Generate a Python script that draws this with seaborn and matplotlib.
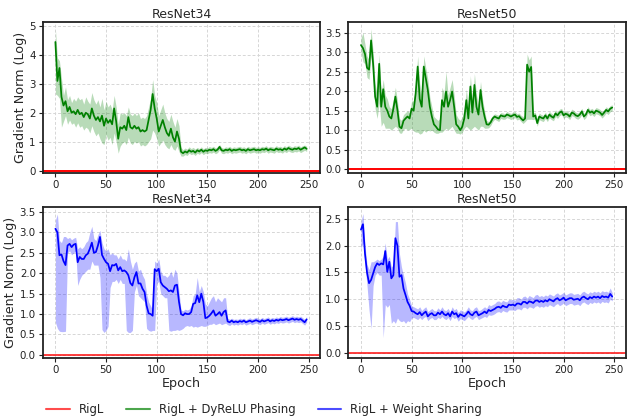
import numpy as np
import pandas as pd
import seaborn as sns
import matplotlib
matplotlib.use("Agg")
import matplotlib.pyplot as plt
from matplotlib.lines import Line2D

# ---------------- data (every 2 epochs) ----------------
epochs = list(range(0, 250, 2))

titles = ["ResNet34", "ResNet50", "ResNet34", "ResNet50"]
legend_labels = ["RigL", "RigL + DyReLU Phasing", "RigL + Weight Sharing"]
rigl_value = 0.0

tl_mean = [4.45, 3.1, 3.55, 2.55, 2.25, 2.4, 2.05, 2.2, 2.0, 2.05,
           1.95, 2.1, 1.95, 2.0, 1.85, 2.0, 1.95, 1.8, 2.15, 1.9,
           1.75, 1.85, 1.7, 1.9, 1.55, 1.8, 1.65, 1.75, 1.6, 2.15,
           1.7, 1.1, 1.5, 1.45, 1.55, 1.4, 1.85, 1.5, 1.45, 1.55,
           1.45, 1.5, 1.35, 1.4, 1.35, 1.4, 1.75, 2.1, 2.65, 2.15,
           1.8, 1.35, 1.55, 1.75, 1.5, 1.3, 1.2, 1.45, 1.15, 1.0,
           1.35, 1.1, 0.65, 0.6, 0.66, 0.62, 0.7, 0.65, 0.68, 0.62,
           0.7, 0.66, 0.72, 0.65, 0.7, 0.68, 0.72, 0.7, 0.74, 0.68,
           0.72, 0.82, 0.7, 0.68, 0.72, 0.7, 0.74, 0.68, 0.72, 0.7,
           0.72, 0.74, 0.7, 0.72, 0.68, 0.74, 0.7, 0.72, 0.74, 0.7,
           0.72, 0.7, 0.74, 0.72, 0.76, 0.7, 0.74, 0.72, 0.7, 0.76,
           0.72, 0.74, 0.7, 0.76, 0.72, 0.78, 0.74, 0.72, 0.76, 0.74,
           0.78, 0.72, 0.76, 0.8, 0.75]
tl_upper = [4.9, 3.9, 3.8, 3.2, 2.6, 2.9, 2.45, 2.6, 2.35, 2.5,
            2.4, 2.55, 2.45, 2.5, 2.3, 2.55, 2.4, 2.3, 2.7, 2.45,
            2.3, 2.45, 2.2, 2.5, 2.1, 2.4, 2.2, 2.3, 2.1, 2.6,
            2.2, 1.6, 2.0, 1.95, 2.0, 1.9, 2.2, 1.95, 1.9, 2.0,
            1.9, 2.0, 1.8, 1.85, 1.8, 1.9, 2.2, 2.5, 3.15, 2.6,
            2.35, 1.9, 2.1, 2.3, 2.0, 1.8, 1.7, 1.95, 1.7, 1.5,
            1.8, 1.55, 0.8, 0.72, 0.78, 0.74, 0.82, 0.76, 0.8, 0.74,
            0.8, 0.76, 0.82, 0.75, 0.8, 0.78, 0.83, 0.8, 0.84, 0.78,
            0.82, 0.9, 0.8, 0.77, 0.82, 0.8, 0.84, 0.78, 0.82, 0.8,
            0.82, 0.84, 0.8, 0.82, 0.78, 0.84, 0.8, 0.82, 0.84, 0.8,
            0.82, 0.8, 0.84, 0.82, 0.86, 0.8, 0.84, 0.82, 0.8, 0.86,
            0.82, 0.84, 0.8, 0.86, 0.82, 0.88, 0.84, 0.82, 0.86, 0.84,
            0.88, 0.82, 0.86, 0.88, 0.84]
tl_lower = [2.65, 2.6, 2.5, 1.5, 1.7, 1.9, 1.6, 1.75, 1.6, 1.65,
            1.5, 1.65, 1.5, 1.55, 1.4, 1.5, 1.45, 1.3, 1.55, 1.35,
            1.2, 1.3, 1.1, 0.95, 0.9, 1.25, 1.05, 1.15, 0.9, 1.3,
            1.0, 0.6, 0.85, 0.95, 1.0, 0.9, 1.15, 0.95, 0.9, 1.0,
            0.95, 1.0, 0.85, 0.9, 0.85, 0.9, 1.0, 1.1, 1.4, 1.3,
            1.1, 0.85, 0.95, 1.05, 0.9, 0.8, 0.75, 0.9, 0.75, 0.7,
            0.85, 0.65, 0.5, 0.5, 0.55, 0.52, 0.6, 0.55, 0.58, 0.52,
            0.6, 0.56, 0.62, 0.55, 0.6, 0.58, 0.62, 0.6, 0.64, 0.58,
            0.62, 0.72, 0.6, 0.58, 0.62, 0.6, 0.64, 0.58, 0.62, 0.6,
            0.62, 0.64, 0.6, 0.62, 0.58, 0.64, 0.6, 0.62, 0.64, 0.6,
            0.62, 0.6, 0.64, 0.62, 0.66, 0.6, 0.64, 0.62, 0.6, 0.66,
            0.62, 0.64, 0.6, 0.66, 0.62, 0.68, 0.64, 0.62, 0.66, 0.64,
            0.68, 0.62, 0.66, 0.7, 0.66]

tr_mean = [3.18, 3.1, 2.95, 2.6, 2.55, 3.3, 2.7, 1.86, 1.6, 2.7,
           1.6, 2.05, 1.6, 1.5, 1.35, 1.3, 1.55, 1.86, 1.52, 1.09,
           1.05, 1.24, 1.3, 1.35, 1.3, 1.55, 1.5, 1.94, 2.63, 1.8,
           1.6, 2.63, 2.33, 2.03, 1.6, 1.35, 1.15, 1.09, 1.02, 1.0,
           1.77, 1.6, 1.99, 1.6, 1.77, 1.99, 1.6, 1.15, 1.09, 1.0,
           1.09, 1.3, 1.77, 1.3, 2.12, 1.45, 2.16, 1.6, 1.4, 2.03,
           1.6, 1.35, 1.15, 1.14, 1.2, 1.3, 1.35, 1.32, 1.3, 1.38,
           1.36, 1.35, 1.4, 1.38, 1.35, 1.38, 1.4, 1.34, 1.36, 1.3,
           1.25, 1.3, 2.68, 2.5, 2.62, 1.35, 1.38, 1.18, 1.35, 1.32,
           1.3, 1.38, 1.3, 1.4, 1.35, 1.32, 1.43, 1.38, 1.45, 1.48,
           1.38, 1.42, 1.4, 1.35, 1.45, 1.43, 1.38, 1.36, 1.4, 1.48,
           1.35, 1.4, 1.52, 1.45, 1.48, 1.43, 1.5, 1.48, 1.45, 1.39,
           1.45, 1.52, 1.48, 1.55, 1.58]
tr_upper = [3.35, 3.5, 3.2, 2.9, 2.8, 3.6, 3.0, 2.2, 1.9, 2.95,
            1.95, 2.3, 1.9, 1.8, 1.6, 1.55, 1.8, 2.1, 1.75, 1.3,
            1.25, 1.4, 1.45, 1.5, 1.45, 1.75, 1.75, 2.2, 2.9, 2.2,
            1.9, 2.9, 2.6, 2.3, 1.85, 1.6, 1.35, 1.3, 1.25, 1.3,
            2.1, 1.95, 2.5, 1.9, 2.1, 2.3, 1.9, 1.4, 1.3, 1.25,
            1.35, 1.55, 2.05, 1.6, 2.4, 1.75, 2.45, 1.9, 1.65, 2.25,
            1.8, 1.5, 1.25, 1.22, 1.3, 1.38, 1.42, 1.4, 1.38, 1.45,
            1.44, 1.42, 1.48, 1.45, 1.43, 1.46, 1.48, 1.42, 1.44, 1.38,
            1.35, 1.4, 2.95, 2.8, 2.9, 1.45, 1.46, 1.3, 1.44, 1.4,
            1.38, 1.46, 1.38, 1.48, 1.43, 1.4, 1.52, 1.46, 1.54, 1.56,
            1.46, 1.5, 1.48, 1.43, 1.54, 1.51, 1.46, 1.44, 1.48, 1.56,
            1.43, 1.48, 1.6, 1.53, 1.56, 1.51, 1.58, 1.56, 1.53, 1.47,
            1.53, 1.6, 1.56, 1.63, 1.65]
tr_lower = [3.0, 2.75, 2.7, 2.35, 2.3, 2.9, 2.4, 1.55, 1.3, 1.7,
            1.1, 1.2, 1.05, 1.05, 1.05, 1.0, 1.05, 1.1, 1.05, 0.93,
            0.92, 1.02, 1.05, 1.0, 1.02, 1.05, 0.98, 0.95, 0.95, 0.9,
            0.92, 1.0, 0.95, 1.0, 0.98, 1.0, 0.95, 0.92, 0.92, 0.95,
            0.95, 1.0, 1.05, 1.0, 1.05, 1.1, 1.0, 0.92, 0.92, 0.9,
            0.95, 1.05, 1.1, 1.05, 1.0, 1.05, 1.1, 1.05, 1.0, 1.1,
            1.1, 1.05, 1.05, 1.06, 1.12, 1.22, 1.28, 1.25, 1.22, 1.3,
            1.28, 1.28, 1.32, 1.3, 1.27, 1.3, 1.32, 1.26, 1.28, 1.22,
            1.17, 1.22, 1.28, 1.28, 1.28, 1.27, 1.3, 1.1, 1.27, 1.24,
            1.22, 1.3, 1.22, 1.32, 1.27, 1.24, 1.35, 1.3, 1.37, 1.4,
            1.3, 1.34, 1.32, 1.27, 1.37, 1.35, 1.3, 1.28, 1.32, 1.4,
            1.27, 1.32, 1.44, 1.37, 1.4, 1.35, 1.42, 1.4, 1.37, 1.31,
            1.37, 1.44, 1.4, 1.47, 1.5]

bl_mean = [3.09, 3.0, 2.44, 2.46, 2.3, 2.2, 2.68, 2.72, 2.64, 2.7,
           2.72, 2.27, 2.4, 2.35, 2.35, 2.44, 2.48, 2.6, 2.75, 2.5,
           2.52, 2.68, 2.89, 2.45, 2.35, 2.27, 2.23, 2.05, 2.2, 2.19,
           2.23, 2.07, 2.15, 2.05, 2.07, 2.03, 1.95, 1.76, 1.7, 1.9,
           2.03, 1.75, 1.75, 1.62, 1.54, 1.21, 1.02, 1.0, 0.96, 2.1,
           2.05, 2.11, 1.78, 1.7, 1.66, 1.62, 1.56, 1.58, 1.54, 1.7,
           1.72, 1.3, 1.0, 0.97, 1.02, 1.0, 1.0, 1.05, 1.25, 1.27,
           1.46, 1.29, 1.5, 1.3, 0.9, 0.92, 0.96, 1.02, 1.09, 0.96,
           1.0, 1.05, 0.96, 1.05, 1.09, 0.82, 0.8, 0.84, 0.8, 0.82,
           0.8, 0.83, 0.81, 0.84, 0.8, 0.82, 0.84, 0.81, 0.83, 0.85,
           0.83, 0.81, 0.85, 0.82, 0.84, 0.86, 0.82, 0.85, 0.83, 0.86,
           0.84, 0.87, 0.85, 0.86, 0.88, 0.85, 0.87, 0.89, 0.86, 0.88,
           0.86, 0.88, 0.84, 0.8, 0.87]
bl_upper = [3.3, 3.45, 2.8, 2.75, 2.9, 2.9, 2.85, 2.88, 2.82, 2.86,
            2.88, 2.6, 2.65, 2.6, 2.65, 2.75, 2.8, 3.0, 3.15, 2.85,
            2.8, 2.95, 3.05, 2.75, 2.6, 2.55, 2.6, 2.45, 2.5, 2.45,
            2.45, 2.35, 2.45, 2.35, 2.35, 2.3, 2.6, 2.3, 2.1, 2.25,
            2.3, 2.05, 2.1, 1.95, 1.85, 1.5, 1.3, 1.2, 1.1, 2.3,
            2.25, 2.35, 2.05, 1.95, 1.95, 1.9, 1.95, 2.05, 1.9, 2.1,
            2.0, 1.55, 1.1, 1.08, 1.12, 1.1, 1.12, 1.2, 1.45, 1.5,
            1.9, 1.55, 1.7, 1.55, 1.25, 1.2, 1.3, 1.4, 1.45, 1.3,
            1.4, 1.35, 1.3, 1.4, 1.4, 0.9, 0.87, 0.9, 0.87, 0.88,
            0.87, 0.9, 0.88, 0.9, 0.86, 0.89, 0.91, 0.88, 0.9, 0.92,
            0.9, 0.88, 0.92, 0.89, 0.91, 0.93, 0.89, 0.92, 0.9, 0.93,
            0.91, 0.94, 0.92, 0.93, 0.95, 0.92, 0.94, 0.96, 0.93, 0.95,
            0.93, 0.95, 0.91, 0.87, 0.94]
bl_lower = [0.8, 0.65, 0.58, 0.57, 0.57, 0.58, 2.5, 2.55, 2.45, 2.5,
            2.55, 1.7, 1.85, 1.95, 2.0, 2.05, 2.1, 2.1, 2.3, 2.2,
            2.2, 2.2, 1.9, 0.62, 0.55, 0.6, 0.7, 1.65, 1.8, 1.8,
            1.85, 1.75, 1.85, 1.75, 1.75, 0.6, 0.55, 0.55, 0.6, 1.55,
            1.7, 1.45, 1.4, 1.35, 1.3, 0.65, 0.6, 0.58, 0.6, 0.6,
            1.75, 1.8, 1.5, 1.45, 1.4, 1.4, 0.6, 0.58, 0.6, 0.6,
            0.62, 0.6, 0.62, 0.65, 0.7, 0.72, 0.7, 0.72, 0.68, 0.7,
            0.68, 0.7, 0.72, 0.7, 0.7, 0.72, 0.75, 0.75, 0.78, 0.74,
            0.76, 0.78, 0.74, 0.76, 0.78, 0.74, 0.72, 0.76, 0.73, 0.75,
            0.73, 0.76, 0.74, 0.77, 0.73, 0.75, 0.77, 0.74, 0.76, 0.78,
            0.76, 0.74, 0.78, 0.75, 0.77, 0.79, 0.75, 0.78, 0.76, 0.79,
            0.77, 0.8, 0.78, 0.79, 0.81, 0.78, 0.8, 0.82, 0.79, 0.81,
            0.79, 0.81, 0.77, 0.73, 0.8]

br_mean = [2.3, 2.4, 1.85, 1.5, 1.3, 1.36, 1.48, 1.6, 1.67, 1.64,
           1.67, 1.65, 1.9, 1.51, 1.7, 1.39, 1.45, 2.14, 2.0, 1.42,
           1.45, 1.2, 1.08, 0.95, 0.88, 0.78, 0.77, 0.74, 0.72, 0.76,
           0.7, 0.74, 0.77, 0.68, 0.72, 0.74, 0.7, 0.7, 0.75, 0.72,
           0.77, 0.72, 0.7, 0.74, 0.68, 0.77, 0.72, 0.74, 0.67, 0.72,
           0.7, 0.68, 0.72, 0.77, 0.72, 0.7, 0.75, 0.77, 0.7, 0.72,
           0.74, 0.77, 0.74, 0.8, 0.78, 0.8, 0.82, 0.85, 0.86, 0.84,
           0.88, 0.86, 0.85, 0.9, 0.89, 0.9, 0.88, 0.92, 0.92, 0.9,
           0.95, 0.95, 0.92, 0.96, 0.95, 0.93, 0.97, 0.98, 0.95, 0.97,
           0.95, 0.98, 0.96, 1.0, 0.98, 0.96, 1.0, 1.02, 0.98, 1.0,
           1.03, 0.98, 1.0, 1.02, 1.02, 0.99, 1.0, 1.01, 0.98, 1.03,
           1.05, 1.02, 1.0, 1.04, 1.02, 1.05, 1.03, 1.05, 1.02, 1.06,
           1.04, 1.05, 1.03, 1.1, 1.05]
br_upper = [2.45, 2.6, 2.0, 1.65, 1.55, 1.7, 1.7, 1.72, 1.75, 1.72,
            1.75, 1.8, 2.05, 1.75, 1.8, 1.6, 1.65, 2.45, 2.45, 1.85,
            1.6, 1.45, 1.3, 1.1, 1.0, 0.88, 0.86, 0.84, 0.82, 0.86,
            0.79, 0.83, 0.86, 0.77, 0.8, 0.83, 0.79, 0.78, 0.84, 0.8,
            0.86, 0.8, 0.79, 0.83, 0.76, 0.86, 0.8, 0.83, 0.75, 0.8,
            0.79, 0.76, 0.8, 0.86, 0.8, 0.79, 0.84, 0.86, 0.79, 0.8,
            0.83, 0.86, 0.83, 0.9, 0.88, 0.9, 0.92, 0.96, 0.97, 0.94,
            0.98, 0.96, 0.95, 1.0, 0.99, 1.0, 0.98, 1.03, 1.03, 1.0,
            1.05, 1.06, 1.02, 1.07, 1.05, 1.03, 1.08, 1.09, 1.05, 1.07,
            1.05, 1.08, 1.06, 1.1, 1.08, 1.06, 1.1, 1.12, 1.08, 1.1,
            1.13, 1.08, 1.1, 1.12, 1.12, 1.09, 1.1, 1.11, 1.08, 1.13,
            1.15, 1.12, 1.1, 1.14, 1.12, 1.15, 1.13, 1.15, 1.12, 1.16,
            1.14, 1.15, 1.13, 1.21, 1.12]
br_lower = [1.95, 2.05, 1.65, 1.25, 0.8, 0.45, 1.25, 1.45, 1.5, 1.45,
            1.45, 0.28, 0.9, 0.85, 0.9, 0.55, 0.6, 0.55, 0.65, 0.6,
            0.58, 0.6, 0.55, 0.6, 0.58, 0.65, 0.66, 0.64, 0.62, 0.66,
            0.62, 0.66, 0.68, 0.6, 0.64, 0.66, 0.62, 0.62, 0.66, 0.64,
            0.68, 0.64, 0.62, 0.66, 0.6, 0.68, 0.64, 0.66, 0.59, 0.64,
            0.62, 0.6, 0.64, 0.68, 0.64, 0.62, 0.66, 0.68, 0.62, 0.64,
            0.66, 0.68, 0.66, 0.71, 0.7, 0.71, 0.73, 0.76, 0.77, 0.75,
            0.79, 0.77, 0.76, 0.8, 0.8, 0.8, 0.79, 0.82, 0.82, 0.8,
            0.85, 0.85, 0.82, 0.86, 0.85, 0.83, 0.87, 0.88, 0.85, 0.87,
            0.85, 0.88, 0.86, 0.9, 0.88, 0.86, 0.9, 0.92, 0.88, 0.9,
            0.93, 0.88, 0.9, 0.92, 0.92, 0.89, 0.9, 0.91, 0.88, 0.93,
            0.95, 0.92, 0.9, 0.94, 0.92, 0.95, 0.93, 0.95, 0.92, 0.96,
            0.94, 0.95, 0.93, 1.0, 0.97]

# ---------------- style ----------------
sns.set_theme(style="whitegrid", rc={
    "grid.linestyle": (0, (3, 2)), "grid.color": "#d6d6d6", "grid.linewidth": 0.7,
    "axes.edgecolor": "#222222", "axes.linewidth": 1.3,
    "xtick.bottom": True, "ytick.left": True,
    "xtick.major.size": 3, "ytick.major.size": 3,
    "xtick.major.width": 0.8, "ytick.major.width": 0.8,
    "xtick.color": "#222222", "ytick.color": "#222222",
    "xtick.labelsize": 7.4, "ytick.labelsize": 7.4,
    "axes.titlesize": 9.0, "axes.labelsize": 9.2,
})
plt.rcParams["font.family"] = ["DejaVu Sans"]

fig, axes = plt.subplots(2, 2, figsize=(6.29, 4.16), dpi=100)
fig.subplots_adjust(left=0.068, right=0.995, top=0.947, bottom=0.139,
                    wspace=0.101, hspace=0.225)

panels = [
    (axes[0, 0], tl_mean, tl_lower, tl_upper, "green", (-0.09, 5.14), np.arange(0, 5.01, 1), "{:.0f}"),
    (axes[0, 1], tr_mean, tr_lower, tr_upper, "green", (-0.1, 3.77), np.arange(0, 3.51, 0.5), "{:.1f}"),
    (axes[1, 0], bl_mean, bl_lower, bl_upper, "blue", (-0.08, 3.62), np.arange(0, 3.51, 0.5), "{:.1f}"),
    (axes[1, 1], br_mean, br_lower, br_upper, "blue", (-0.1, 2.72), np.arange(0, 2.51, 0.5), "{:.1f}"),
]

for i, (ax, mean, lo, up, col, ylim, yt, fmt) in enumerate(panels):
    df = pd.DataFrame({"epoch": epochs, "mean": mean, "lo": lo, "up": up})
    ax.fill_between(df["epoch"], df["lo"], df["up"], color=col, alpha=0.28, linewidth=0)
    sns.lineplot(data=df, x="epoch", y="mean", ax=ax, color=col, linewidth=1.25)
    red_alpha = 1.0 if i < 2 else 0.75
    ax.axhline(rigl_value, color="red", linewidth=1.4, alpha=red_alpha)
    ax.set_xlim(-12.45, 261.45)
    ax.set_ylim(*ylim)
    ax.set_xticks(range(0, 251, 50))
    ax.set_yticks(yt)
    ax.set_yticklabels([fmt.format(v) for v in yt])
    ax.set_title(titles[i], pad=3)
    ax.set_xlabel("Epoch" if i >= 2 else "", labelpad=1)
    ax.set_ylabel("Gradient Norm (Log)" if i % 2 == 0 else "", labelpad=2)
    ax.tick_params(axis="both", pad=2)
    for s in ax.spines.values():
        s.set_visible(True)

handles = [Line2D([0], [0], color="red", lw=1.5, alpha=0.7),
           Line2D([0], [0], color="green", lw=1.5, alpha=0.7),
           Line2D([0], [0], color="blue", lw=1.5, alpha=0.7)]
fig.legend(handles, legend_labels, loc="lower center", ncol=3, frameon=False,
           bbox_to_anchor=(0.42, -0.025), fontsize=8.4, handlelength=2.0,
           columnspacing=1.9, handletextpad=0.8)

fig.savefig("out.png", dpi=100)
